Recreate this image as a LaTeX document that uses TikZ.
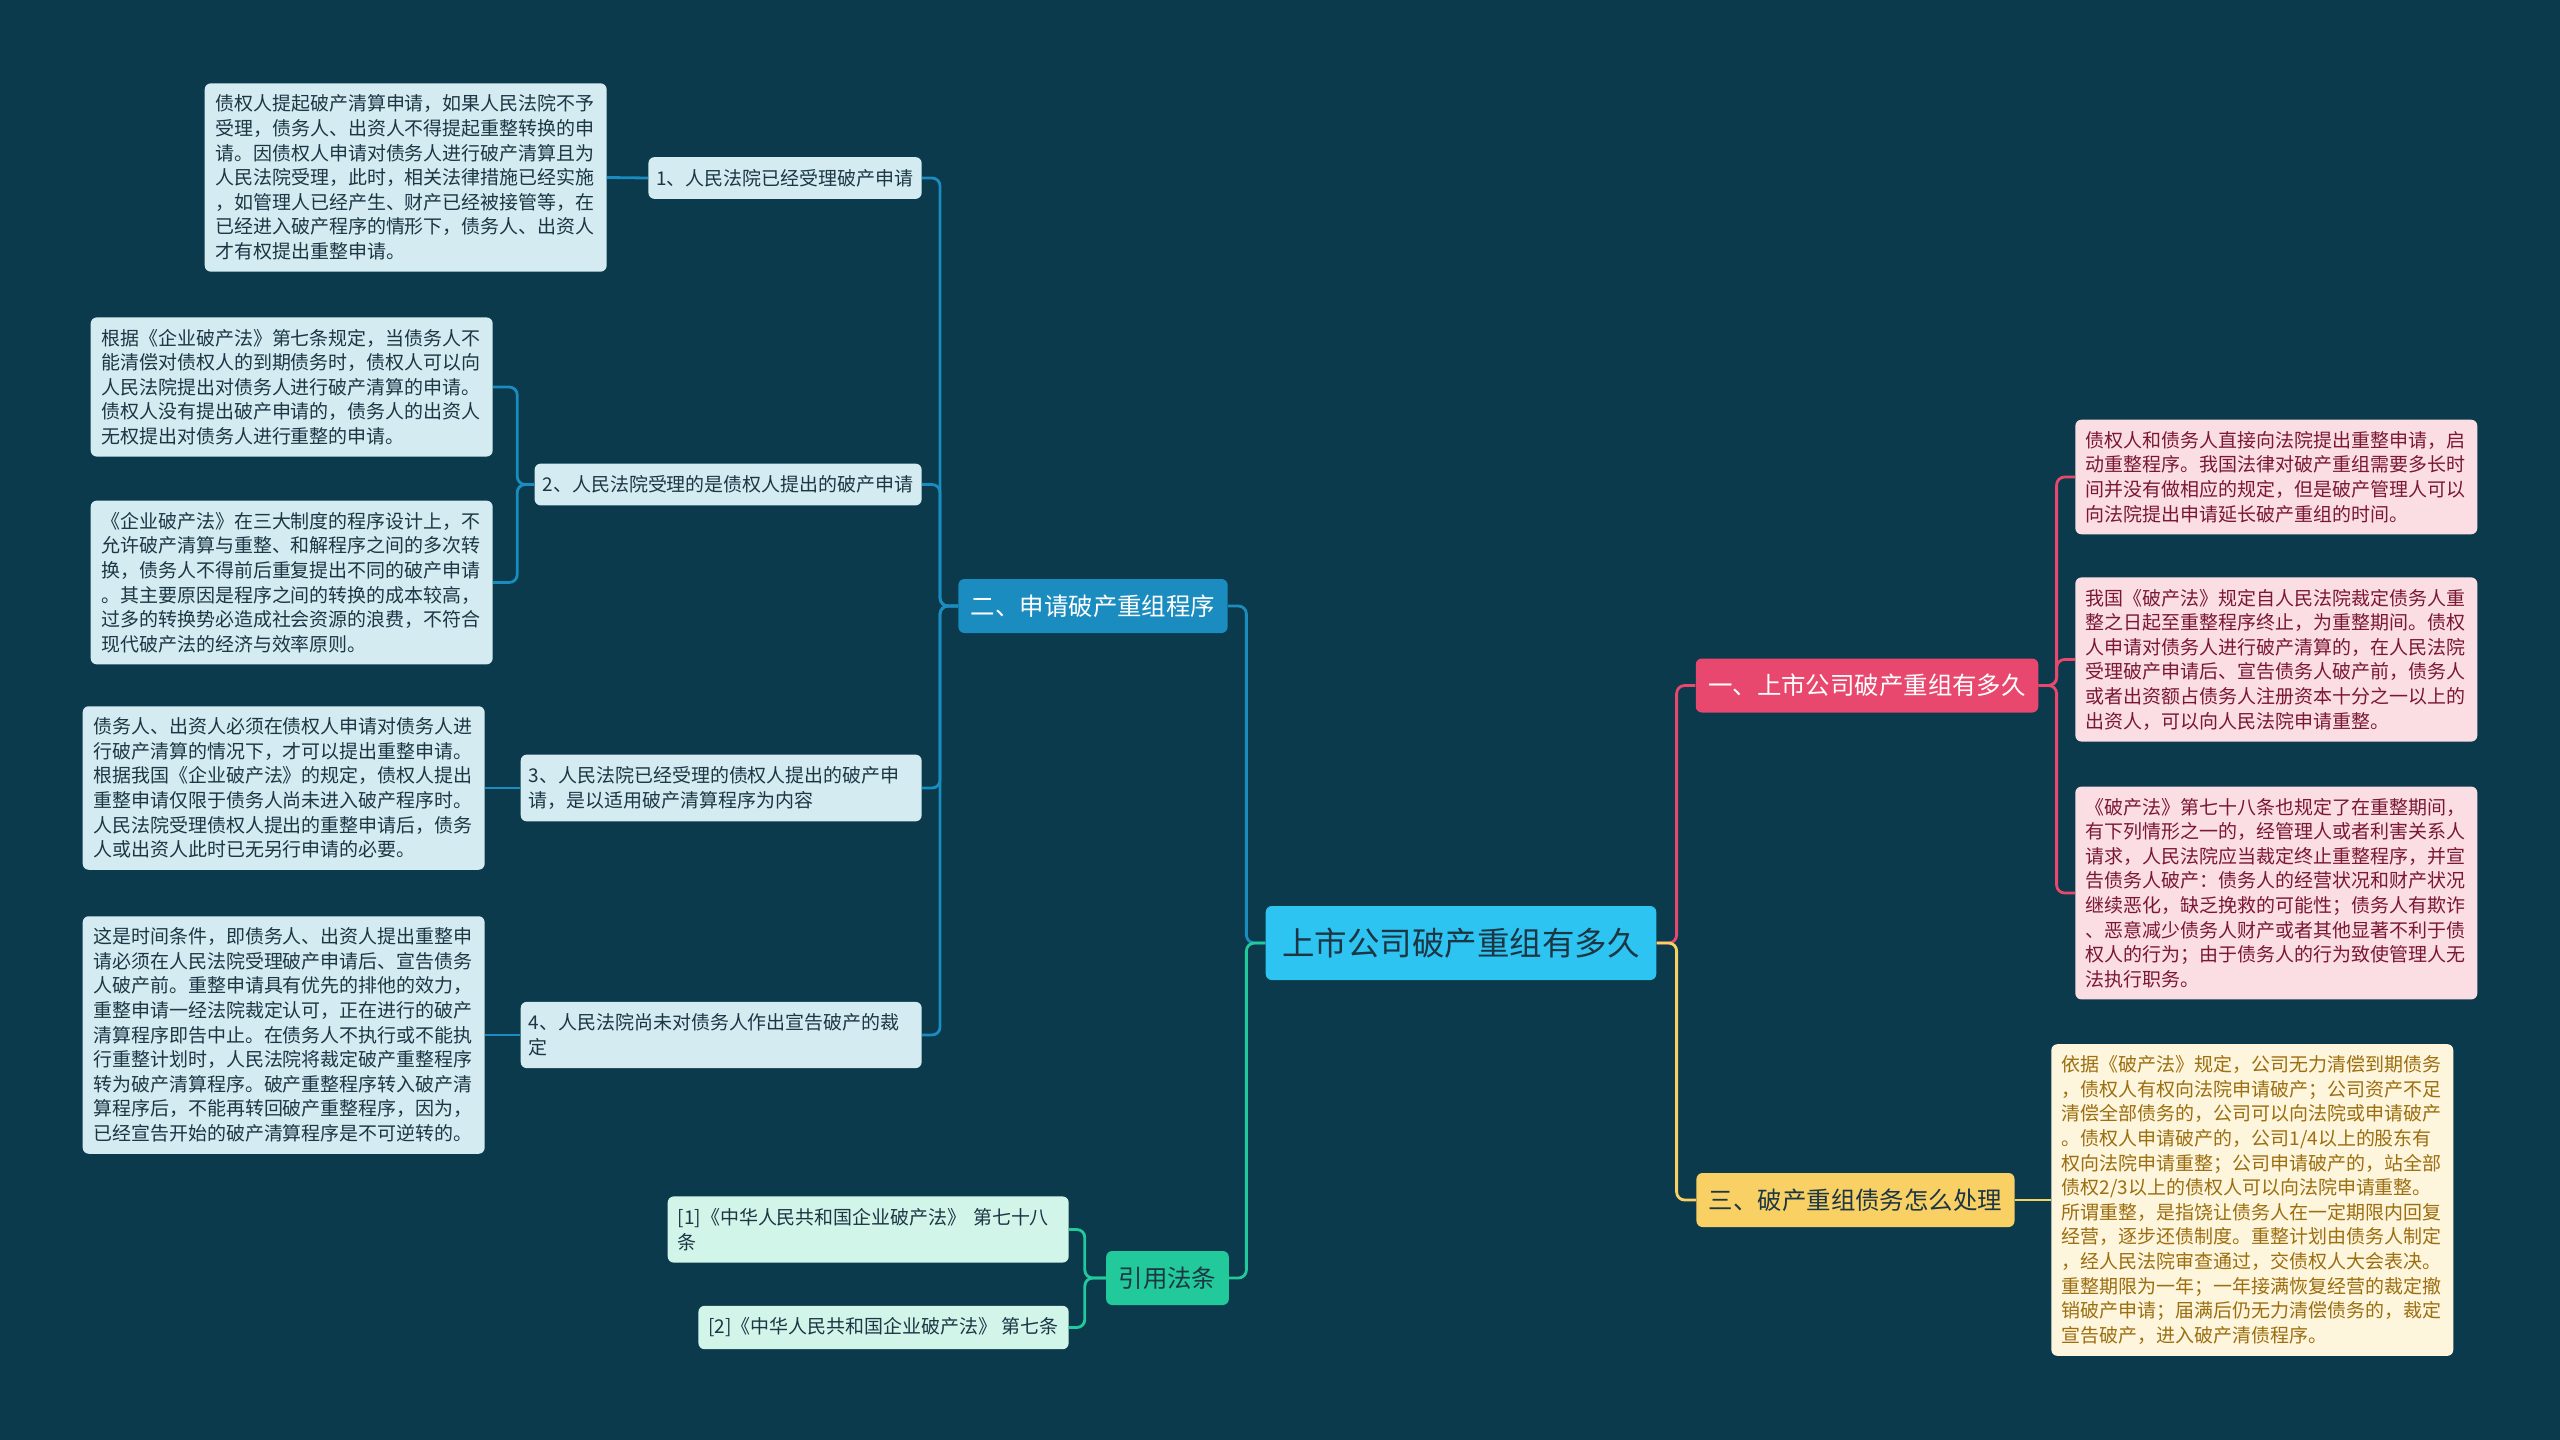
\documentclass[tikz,border=0pt]{standalone}
\usepackage{fontspec}
\setmainfont{Noto Sans CJK SC}
\usepackage{tikz}
\usetikzlibrary{positioning, calc}
\definecolor{bgteal}{HTML}{0A3A4B}
\definecolor{rootcyan}{HTML}{2EC4F2}
\definecolor{inkdark}{HTML}{1C3644}
\definecolor{procblue}{HTML}{1A8CBF}
\definecolor{leafblue}{HTML}{D4EBF2}
\definecolor{lawgreen}{HTML}{22C99A}
\definecolor{leafgreen}{HTML}{D2F5EA}
\definecolor{timepink}{HTML}{E8486E}
\definecolor{leafpink}{HTML}{FBDDE4}
\definecolor{inkpink}{HTML}{7A1832}
\definecolor{debtgold}{HTML}{F8D064}
\definecolor{leafgold}{HTML}{FDF5DC}
\definecolor{inkgold}{HTML}{9C6E10}

\begin{document}
\begin{tikzpicture}[x=0.02cm, y=-0.02cm,
        box/.style={rounded corners=0.12cm, inner sep=0pt},
        rootbox/.style={box, fill=rootcyan, text=inkdark, inner xsep=0.33cm, minimum height=1.48cm, font=\fontsize{18.5}{22}\selectfont},
        branch/.style={box, inner xsep=0.25cm, minimum height=1.08cm, font=\fontsize{13.9}{17}\selectfont},
        sub/.style={box, fill=leafblue, text=inkdark, align=left, inner xsep=0.16cm, inner ysep=0.24cm, font=\fontsize{10.8}{14}\selectfont},
        leaf/.style={box, align=left, text width=7.62cm, inner xsep=0.21cm, inner ysep=0.23cm, font=\fontsize{10.8}{14}\selectfont},
        link/.style={line width=1.6pt, rounded corners=0.16cm},
    ]
        % background
        \fill[bgteal] (0,0) rectangle (2560,1440);

        % centre and the four branches
        \node[rootbox] (root) at (1461,943) {上市公司破产重组有多久};
        \node[branch, fill=procblue, text=white] (proc) at (1093,606) {二、申请破产重组程序};
        \node[branch, fill=lawgreen, text=inkdark] (laws) at (1167.5,1278) {引用法条};
        \node[branch, fill=timepink, text=white] (howlong) at (1867,685.5) {一、上市公司破产重组有多久};
        \node[branch, fill=debtgold, text=inkdark] (debts) at (1855.5,1200) {三、破产重组债务怎么处理};

        % application procedure
        \node[sub, anchor=east] (s1) at (922,178) {1、人民法院已经受理破产申请};
        \node[sub, anchor=east] (s2) at (922,484.5) {2、人民法院受理的是债权人提出的破产申请};
        \node[sub, anchor=east, text width=7.7cm] (s3) at (922,788) {3、人民法院已经受理的债权人提出的破产申\\请，是以适用破产清算程序为内容};
        \node[sub, anchor=east, text width=7.7cm] (s4) at (922,1035) {4、人民法院尚未对债务人作出宣告破产的裁\\定};

        \node[leaf, fill=leafblue, text=inkdark, anchor=east] (l1) at (607,177.5) {债权人提起破产清算申请，如果人民法院不予\\受理，债务人、出资人不得提起重整转换的申\\请。因债权人申请对债务人进行破产清算且为\\人民法院受理，此时，相关法律措施已经实施\\，如管理人已经产生、财产已经被接管等，在\\已经进入破产程序的情形下，债务人、出资人\\才有权提出重整申请。};
        \node[leaf, fill=leafblue, text=inkdark, anchor=east] (l2a) at (493,387) {根据《企业破产法》第七条规定，当债务人不\\能清偿对债权人的到期债务时，债权人可以向\\人民法院提出对债务人进行破产清算的申请。\\债权人没有提出破产申请的，债务人的出资人\\无权提出对债务人进行重整的申请。};
        \node[leaf, fill=leafblue, text=inkdark, anchor=east] (l2b) at (493,582.5) {《企业破产法》在三大制度的程序设计上，不\\允许破产清算与重整、和解程序之间的多次转\\换，债务人不得前后重复提出不同的破产申请\\。其主要原因是程序之间的转换的成本较高，\\过多的转换势必造成社会资源的浪费，不符合\\现代破产法的经济与效率原则。};
        \node[leaf, fill=leafblue, text=inkdark, anchor=east] (l3) at (485,788) {债务人、出资人必须在债权人申请对债务人进\\行破产清算的情况下，才可以提出重整申请。\\根据我国《企业破产法》的规定，债权人提出\\重整申请仅限于债务人尚未进入破产程序时。\\人民法院受理债权人提出的重整申请后，债务\\人或出资人此时已无另行申请的必要。};
        \node[leaf, fill=leafblue, text=inkdark, anchor=east] (l4) at (485,1035) {这是时间条件，即债务人、出资人提出重整申\\请必须在人民法院受理破产申请后、宣告债务\\人破产前。重整申请具有优先的排他的效力，\\重整申请一经法院裁定认可，正在进行的破产\\清算程序即告中止。在债务人不执行或不能执\\行重整计划时，人民法院将裁定破产重整程序\\转为破产清算程序。破产重整程序转入破产清\\算程序后，不能再转回破产重整程序，因为，\\已经宣告开始的破产清算程序是不可逆转的。};

        % cited laws
        \node[sub, fill=leafgreen, anchor=east, text width=7.62cm, inner xsep=0.2cm] (c1) at (1069,1229.5) {[1]《中华人民共和国企业破产法》 第七十八\\条};
        \node[sub, fill=leafgreen, anchor=east, inner xsep=0.2cm] (c2) at (1069,1327.5) {[2]《中华人民共和国企业破产法》 第七条};

        % how long
        \node[leaf, fill=leafpink, text=inkpink, anchor=west] (r1) at (2075,477) {债权人和债务人直接向法院提出重整申请，启\\动重整程序。我国法律对破产重组需要多长时\\间并没有做相应的规定，但是破产管理人可以\\向法院提出申请延长破产重组的时间。};
        \node[leaf, fill=leafpink, text=inkpink, anchor=west] (r2) at (2075,659.5) {我国《破产法》规定自人民法院裁定债务人重\\整之日起至重整程序终止，为重整期间。债权\\人申请对债务人进行破产清算的，在人民法院\\受理破产申请后、宣告债务人破产前，债务人\\或者出资额占债务人注册资本十分之一以上的\\出资人，可以向人民法院申请重整。};
        \node[leaf, fill=leafpink, text=inkpink, anchor=west] (r3) at (2075,893) {《破产法》第七十八条也规定了在重整期间，\\有下列情形之一的，经管理人或者利害关系人\\请求，人民法院应当裁定终止重整程序，并宣\\告债务人破产：债务人的经营状况和财产状况\\继续恶化，缺乏挽救的可能性；债务人有欺诈\\、恶意减少债务人财产或者其他显著不利于债\\权人的行为；由于债务人的行为致使管理人无\\法执行职务。};

        % debts
        \node[leaf, fill=leafgold, text=inkgold, anchor=west] (y1) at (2051,1200) {依据《破产法》规定，公司无力清偿到期债务\\，债权人有权向法院申请破产；公司资产不足\\清偿全部债务的，公司可以向法院或申请破产\\。债权人申请破产的，公司1/4以上的股东有\\权向法院申请重整；公司申请破产的，站全部\\债权2/3以上的债权人可以向法院申请重整。\\所谓重整，是指饶让债务人在一定期限内回复\\经营，逐步还债制度。重整计划由债务人制定\\，经人民法院审查通过，交债权人大会表决。\\重整期限为一年；一年接满恢复经营的裁定撤\\销破产申请；届满后仍无力清偿债务的，裁定\\宣告破产，进入破产清债程序。};

        % connectors
        \draw[link, procblue] (root.west) -- ++(-19,0) |- (proc.east);
        \draw[link, lawgreen] (root.west) -- ++(-19,0) |- (laws.east);
        \draw[link, timepink] (root.east) -- ++(20,0) |- (howlong.west);
        \draw[link, debtgold] (root.east) -- ++(20,0) |- (debts.west);

        \foreach \s in {s1,s2,s3,s4}
            \draw[link, procblue] (proc.west) -- ++(-18,0) |- (\s.east);
        \draw[link, procblue] (s1.west) -- (l1.east);
        \draw[link, procblue] (s2.west) -- ++(-17,0) |- (l2a.east);
        \draw[link, procblue] (s2.west) -- ++(-17,0) |- (l2b.east);
        \draw[link, procblue] (s3.west) -- (l3.east);
        \draw[link, procblue] (s4.west) -- (l4.east);

        \foreach \c in {c1,c2}
            \draw[link, lawgreen] (laws.west) -- ++(-21,0) |- (\c.east);

        \foreach \r in {r1,r2,r3}
            \draw[link, timepink] (howlong.east) -- ++(18,0) |- (\r.west);

        \draw[link, debtgold] (debts.east) -- (y1.west);
    \end{tikzpicture}
\end{document}
